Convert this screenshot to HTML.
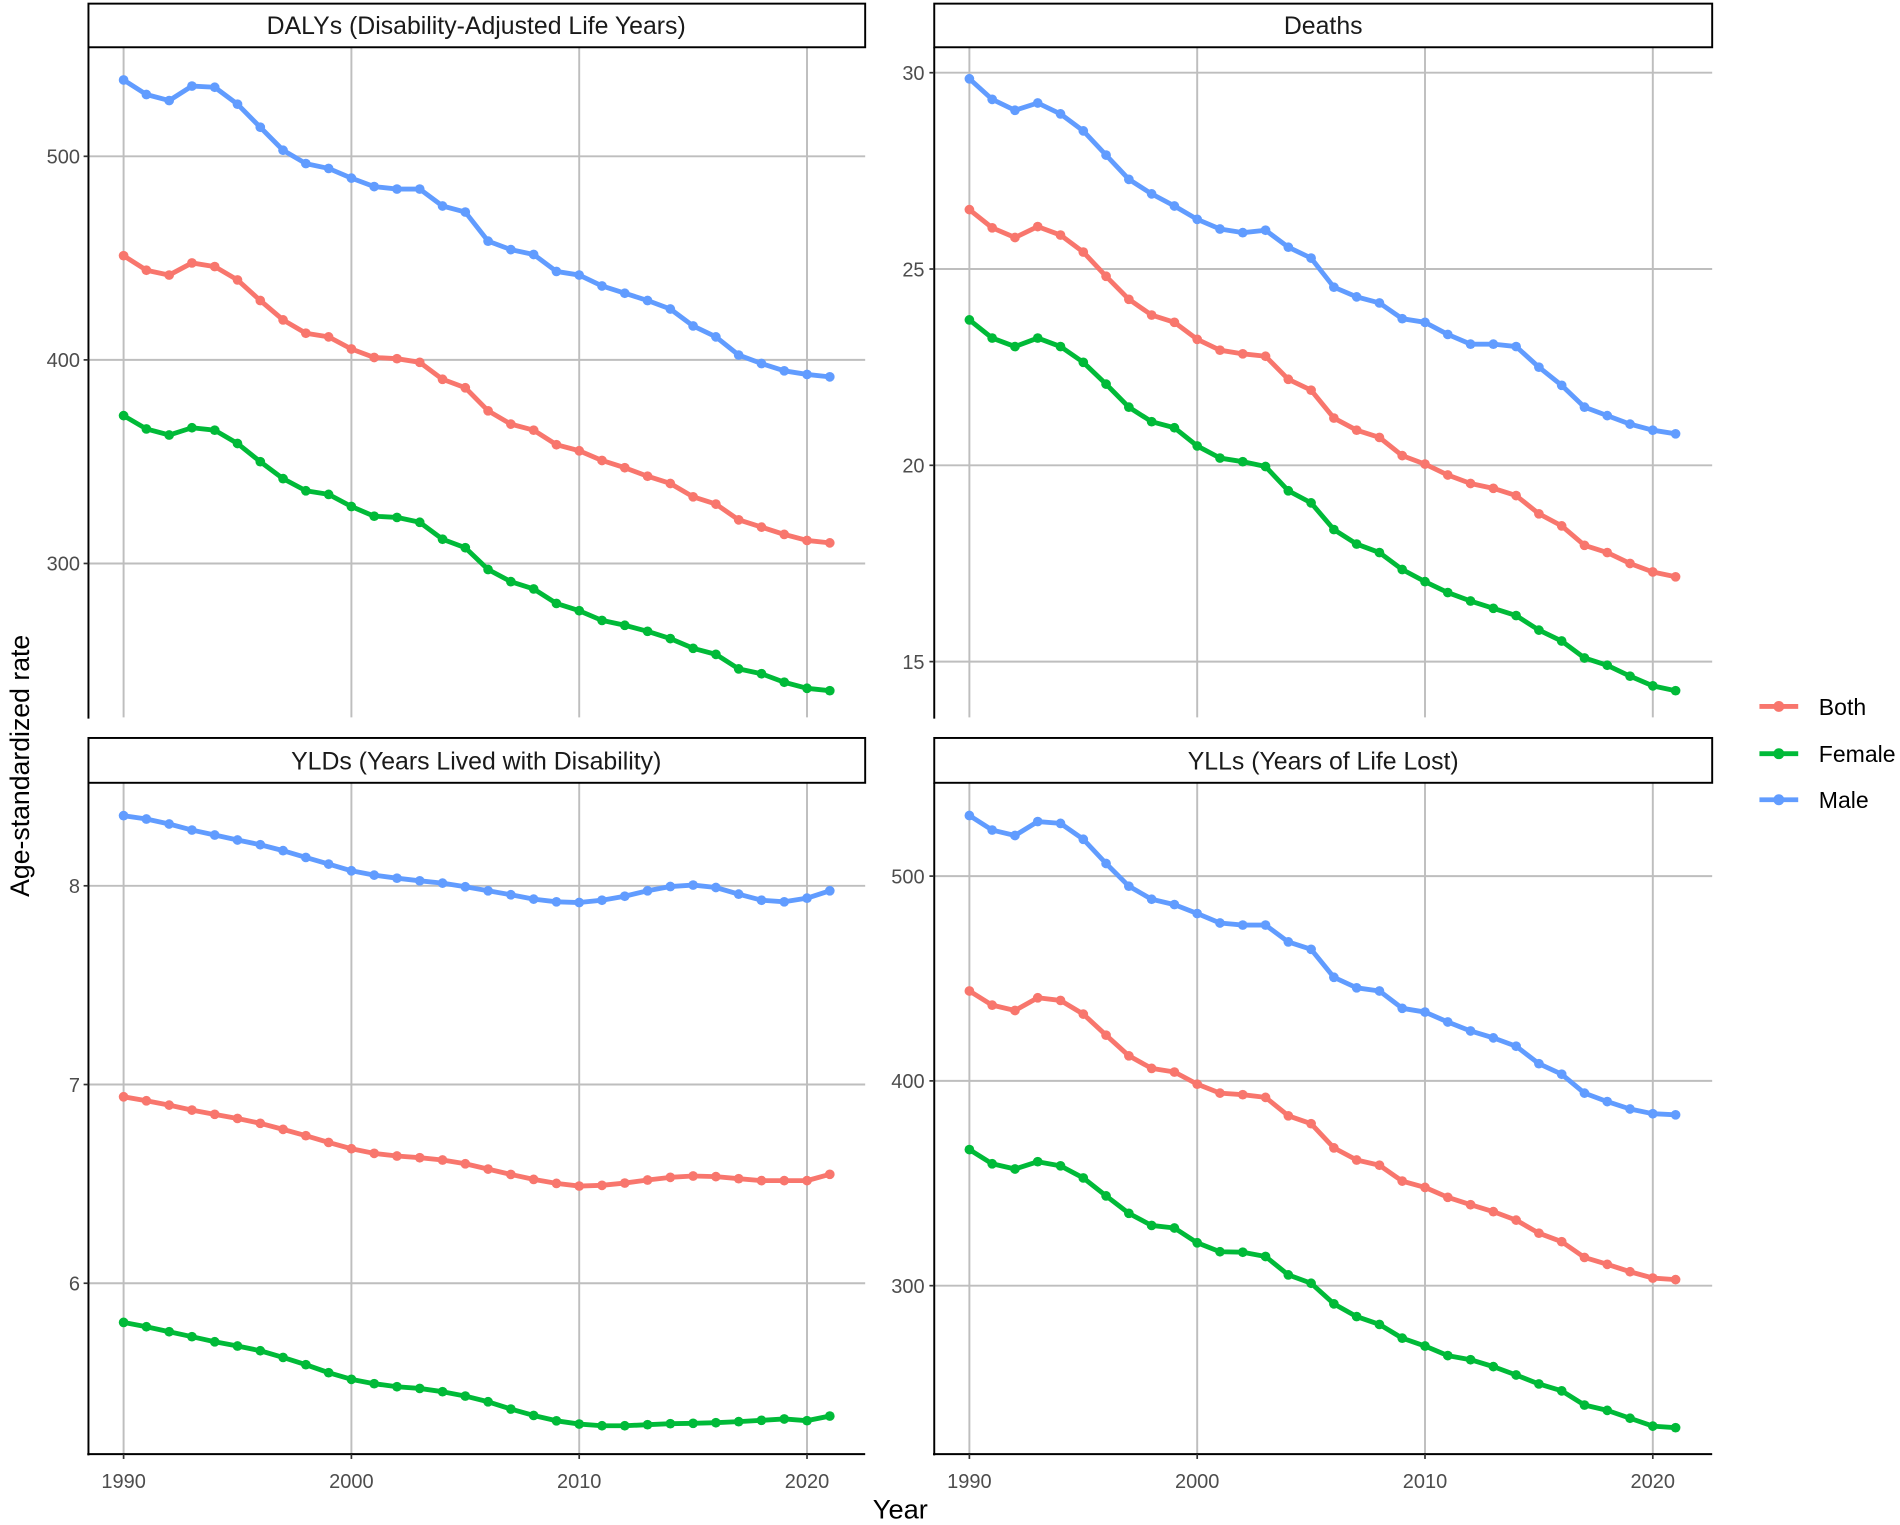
<!DOCTYPE html>
<html><head><meta charset="utf-8"><style>
html,body{margin:0;padding:0;background:#fff;}
svg{display:block;}
text{font-family:"Liberation Sans",sans-serif;}
</style></head><body>
<svg id="s" width="1900" height="1525" viewBox="0 0 1568 1258.5" preserveAspectRatio="none" xmlns="http://www.w3.org/2000/svg">
<rect width="1568" height="1258.5" fill="#fff"/>
<g id="grid" stroke="#bebebe" stroke-width="1.6" fill="none"></g>
<g id="axes" stroke="#000" stroke-width="1.6" fill="none">
<line x1="73" y1="39" x2="73" y2="593"/>
<line x1="771" y1="39" x2="771" y2="593"/>
<line x1="73" y1="646" x2="73" y2="1201"/>
<line x1="771" y1="646" x2="771" y2="1201"/>
<line x1="72" y1="1200" x2="714" y2="1200"/>
<line x1="770" y1="1200" x2="1413" y2="1200"/>
<rect x="73" y="3" width="641" height="36"/>
<rect x="771" y="3" width="642" height="36"/>
<rect x="73" y="609" width="641" height="37"/>
<rect x="771" y="609" width="642" height="37"/>
</g>
<g id="ticks" stroke="#333" stroke-width="1.4"></g>
<g font-size="20.5" fill="#1a1a1a" text-anchor="middle">
<text x="393" y="28">DALYs (Disability-Adjusted Life Years)</text>
<text x="1092" y="28">Deaths</text>
<text x="393" y="635">YLDs (Years Lived with Disability)</text>
<text x="1092" y="635">YLLs (Years of Life Lost)</text>
</g>
<g font-size="16.5" fill="#4d4d4d" text-anchor="end">
<text x="66" y="135">500</text><text x="66" y="303">400</text><text x="66" y="471">300</text>
<text x="763" y="66">30</text><text x="763" y="228">25</text><text x="763" y="390">20</text><text x="763" y="552">15</text>
<text x="66" y="737">8</text><text x="66" y="901">7</text><text x="66" y="1065">6</text>
<text x="763" y="729">500</text><text x="763" y="898">400</text><text x="763" y="1067">300</text>
</g>
<g font-size="16.5" fill="#4d4d4d" text-anchor="middle">
<text x="102" y="1228">1990</text><text x="290" y="1228">2000</text><text x="478" y="1228">2010</text><text x="666" y="1228">2020</text>
<text x="800" y="1228">1990</text><text x="988" y="1228">2000</text><text x="1176" y="1228">2010</text><text x="1364" y="1228">2020</text>
</g>
<text x="743" y="1253" font-size="22.5" text-anchor="middle" fill="#000">Year</text>
<text transform="translate(24,632) rotate(-90)" font-size="22" text-anchor="middle" fill="#000">Age-standardized rate</text>
<g stroke-width="4">
<line x1="1452" y1="583" x2="1484" y2="583" stroke="#F8766D"/><circle cx="1468" cy="583" r="4.5" fill="#F8766D"/>
<line x1="1452" y1="622" x2="1484" y2="622" stroke="#00BA38"/><circle cx="1468" cy="622" r="4.5" fill="#00BA38"/>
<line x1="1452" y1="660" x2="1484" y2="660" stroke="#619CFF"/><circle cx="1468" cy="660" r="4.5" fill="#619CFF"/>
</g>
<g font-size="19" fill="#000">
<text x="1501" y="590">Both</text><text x="1501" y="629">Female</text><text x="1501" y="667">Male</text>
</g>
<g id="data"></g>
</svg>
<script>
var NS="http://www.w3.org/2000/svg";
function el(p,t,a){var e=document.createElementNS(NS,t);for(var k in a)e.setAttribute(k,a[k]);p.appendChild(e);return e;}
var grid=document.getElementById('grid'),ticks=document.getElementById('ticks'),data=document.getElementById('data');
var panels=[
{x0:73,x1:714,y0:39,y1:592,bx:102,hy:[129,297,465]},
{x0:771,x1:1413,y0:39,y1:592,bx:800,hy:[60,222,384,546]},
{x0:73,x1:714,y0:646,y1:1200,bx:102,hy:[731,895,1059]},
{x0:771,x1:1413,y0:646,y1:1200,bx:800,hy:[723,892,1061]}];
panels.forEach(function(p){
 for(var i=0;i<4;i++){var x=p.bx+i*188;el(grid,'line',{x1:x,y1:p.y0,x2:x,y2:p.y1});}
 p.hy.forEach(function(y){el(grid,'line',{x1:p.x0,y1:y,x2:p.x1,y2:y});el(ticks,'line',{x1:p.x0-4,y1:y,x2:p.x0,y2:y});});
 if(p.y1==1200){for(var i=0;i<4;i++){var x=p.bx+i*188;el(ticks,'line',{x1:x,y1:1200,x2:x,y2:1204});}}
});
var S=[
[0,'#619CFF',[66,78,83,71,72,86,105,124,135,139,147,154,156,156,170,175,199,206,210,224,227,236,242,248,255,269,278,293,300,306,309,311]],
[0,'#F8766D',[211,223,227,217,220,231,248,264,275,278,288,295,296,299,313,320,339,350,355,367,372,380,386,393,399,410,416,429,435,441,446,448]],
[0,'#00BA38',[343,354,359,353,355,366,381,395,405,408,418,426,427,431,445,452,470,480,486,498,504,512,516,521,527,535,540,552,556,563,568,570]],
[1,'#619CFF',[65,82,91,85,94,108,128,148,160,170,181,189,192,190,204,213,237,245,250,263,266,276,284,284,286,303,318,336,343,350,355,358]],
[1,'#F8766D',[173,188,196,187,194,208,228,247,260,266,280,289,292,294,313,322,345,355,361,376,383,392,399,403,409,424,434,450,456,465,472,476]],
[1,'#00BA38',[264,279,286,279,286,299,317,336,348,353,368,378,381,385,405,415,437,449,456,470,480,489,496,502,508,520,529,543,549,558,566,570]],
[2,'#619CFF',[673.1,675.9,680,685,689.1,693.2,697.1,702,707.6,713.1,718.6,722.2,724.7,726.9,728.8,731.8,735.1,738.4,742,744.2,744.8,742.9,739.6,735.1,731.6,730.4,732.4,737.9,742.9,744.2,741.2,735.1]],
[2,'#F8766D',[905.1,908.4,912,916.1,919.6,923,927,932,937.2,942.8,948,951.8,954,955.4,957.3,960.4,964.8,969.2,973.3,976.6,978.8,978.2,976.3,973.8,971.6,970.5,971,972.7,974.3,974.3,974.3,969.1]],
[2,'#00BA38',[1091.3,1094.9,1099,1103.1,1107.3,1110.8,1114.7,1120.2,1126.2,1132.8,1138.3,1141.9,1144.4,1145.8,1148.5,1152.1,1156.8,1162.8,1168.1,1172.5,1175.2,1176.6,1176.6,1175.7,1174.9,1174.6,1174.1,1173.2,1172.1,1171,1172.4,1168.6]],
[3,'#619CFF',[673,685,689.5,678,679.5,692.6,712.6,731.3,742.1,746.5,753.9,761.7,763.4,763.4,777.3,783.4,806.5,815.2,817.8,832.1,835.2,843.4,850.8,856.5,863.4,877.8,886.5,902.1,909.1,915.2,919.1,920]],
[3,'#F8766D',[817.8,829.5,833.9,823.4,825.6,836.9,854.3,871.3,881.7,884.7,894.7,902.1,903.4,905.6,920.8,927.3,947.3,957.3,961.6,974.7,979.9,988.1,994.2,999.9,1006.9,1017.7,1024.7,1037.7,1043.4,1049.5,1054.7,1056]],
[3,'#00BA38',[948.7,960.4,964.7,958.7,962.1,972.1,986.9,1001.3,1011.3,1013.4,1025.6,1033,1033.4,1036.9,1052.1,1059,1076,1086.5,1093,1104.3,1110.8,1118.7,1122.1,1127.8,1134.7,1142.1,1147.8,1159.5,1163.9,1170.4,1176.9,1178.2]]];
S.forEach(function(s){
 var p=panels[s[0]],pts=[];
 s[2].forEach(function(y,i){var x=p.bx+i*18.8;pts.push(x+','+y);});
 el(data,'polyline',{points:pts.join(' '),fill:'none',stroke:s[1],'stroke-width':4,'stroke-linejoin':'round'});
 s[2].forEach(function(y,i){el(data,'circle',{cx:p.bx+i*18.8,cy:y,r:4,fill:s[1]});});
});
</script>
</body></html>
